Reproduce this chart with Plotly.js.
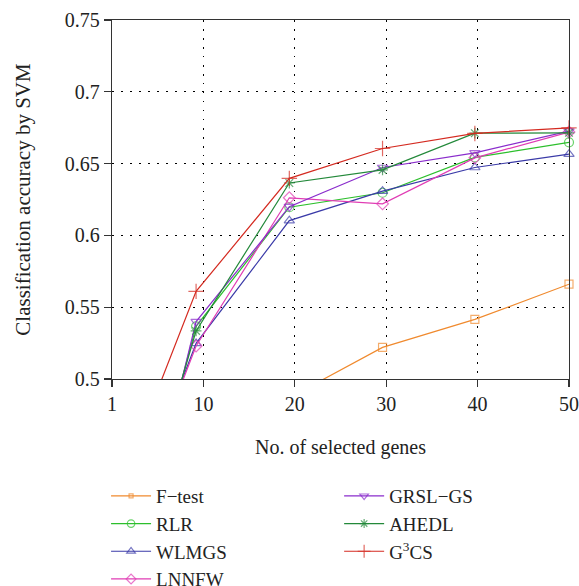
<!DOCTYPE html>
<html>
<head>
<meta charset="utf-8">
<script src="https://cdn.plot.ly/plotly-3.0.1.min.js"></script>
<style>html,body{margin:0;padding:0;background:#fff;}#chart{width:579px;height:586px;}</style>
</head>
<body>
<div id="chart"></div>
<script>
// Data
var geneCounts = [0, 9.2, 19.4, 29.6, 39.7, 50];
var xTickVals = [0, 10, 20, 30, 40, 50];
var xTickText = ['1', '10', '20', '30', '40', '50'];
var yTickVals = [0.5, 0.55, 0.6, 0.65, 0.7, 0.75];
var yTickText = ['0.5', '0.55', '0.6', '0.65', '0.7', '0.75'];
var yRange = [0.5, 0.75];

var fTest  = [0.40, 0.45, 0.487, 0.522, 0.5415, 0.566];
var rlr    = [0.318, 0.5367, 0.6196, 0.6297, 0.6543, 0.6648];
var wlmgs  = [0.372, 0.5248, 0.6103, 0.6308, 0.6473, 0.6566];
var lnnfw  = [0.371, 0.523, 0.6262, 0.622, 0.654, 0.672];
var grslgs = [0.30, 0.540, 0.620, 0.6473, 0.6575, 0.6726];
var ahedl  = [0.334, 0.5335, 0.6365, 0.6456, 0.6712, 0.6714];
var g3cs   = [0.411, 0.561, 0.6397, 0.6605, 0.671, 0.6749];

var names = ['F\u2212test', 'RLR', 'WLMGS', 'LNNFW', 'GRSL\u2212GS', 'AHEDL', 'G<sup>3</sup>CS'];
var series = [fTest, rlr, wlmgs, lnnfw, grslgs, ahedl, g3cs];
var colors = ['#f08a2e', '#2cbf2c', '#3a3aa8', '#e03cb4', '#8a2ccc', '#23893a', '#d42a20'];
var symbols = ['square-open', 'circle-open', 'triangle-up-open', 'diamond-open', 'triangle-down-open', 'asterisk-open', 'cross-thin-open'];
var sizes = [8, 9, 9, 9, 9, 9, 11];
var legends = ['legend', 'legend', 'legend', 'legend', 'legend2', 'legend2', 'legend2'];

var traces = series.map(function (ys, i) {
  return {
    x: geneCounts,
    y: ys,
    name: names[i],
    type: 'scatter',
    mode: 'lines+markers',
    legend: legends[i],
    line: {color: colors[i], width: 1.2},
    marker: {
      symbol: symbols[i],
      // hide markers of points below the visible range (lines stay clipped)
      size: ys.map(function (v) { return v >= yRange[0] ? sizes[i] : 0; }),
      color: colors[i],
      line: {color: colors[i], width: 1.2}
    },
    cliponaxis: false
  };
});

var fam = 'Liberation Serif';
var layout = {
  width: 579,
  height: 586,
  margin: {l: 112, r: 10, t: 20, b: 207, autoexpand: false},
  paper_bgcolor: '#fff',
  plot_bgcolor: '#fff',
  font: {family: fam, size: 20, color: '#222'},
  showlegend: true,
  xaxis: {
    range: [0, 50],
    tickvals: xTickVals,
    ticktext: xTickText,
    showline: true, mirror: true, linecolor: '#333', linewidth: 1.3,
    ticks: 'outside', ticklen: 7, tickcolor: '#333', tickwidth: 1.2,
    showgrid: true, gridcolor: '#000', gridwidth: 1, griddash: '1.5px,7.5px',
    zeroline: false,
    tickfont: {size: 20},
    title: {text: 'No. of selected genes', font: {size: 20}, standoff: 25}
  },
  yaxis: {
    range: yRange,
    tickvals: yTickVals,
    ticktext: yTickText,
    showline: true, mirror: true, linecolor: '#333', linewidth: 1.3,
    ticks: 'outside', ticklen: 7, tickcolor: '#333', tickwidth: 1.2,
    showgrid: true, gridcolor: '#000', gridwidth: 1, griddash: '1.5px,7.5px',
    zeroline: false,
    tickfont: {size: 20},
    title: {text: 'Classification accuracy by SVM', font: {size: 21}, standoff: 28}
  },
  legend: {
    x: -0.013, y: -0.273, xanchor: 'left', yanchor: 'top',
    orientation: 'v', bgcolor: 'rgba(0,0,0,0)', itemwidth: 40,
    font: {size: 19},
    tracegroupgap: 0
  },
  legend2: {
    x: 0.497, y: -0.273, xanchor: 'left', yanchor: 'top',
    orientation: 'v', bgcolor: 'rgba(0,0,0,0)', itemwidth: 40,
    font: {size: 19},
    tracegroupgap: 0
  }
};

Plotly.newPlot('chart', traces, layout, {displayModeBar: false, staticPlot: true});
</script>
</body>
</html>
